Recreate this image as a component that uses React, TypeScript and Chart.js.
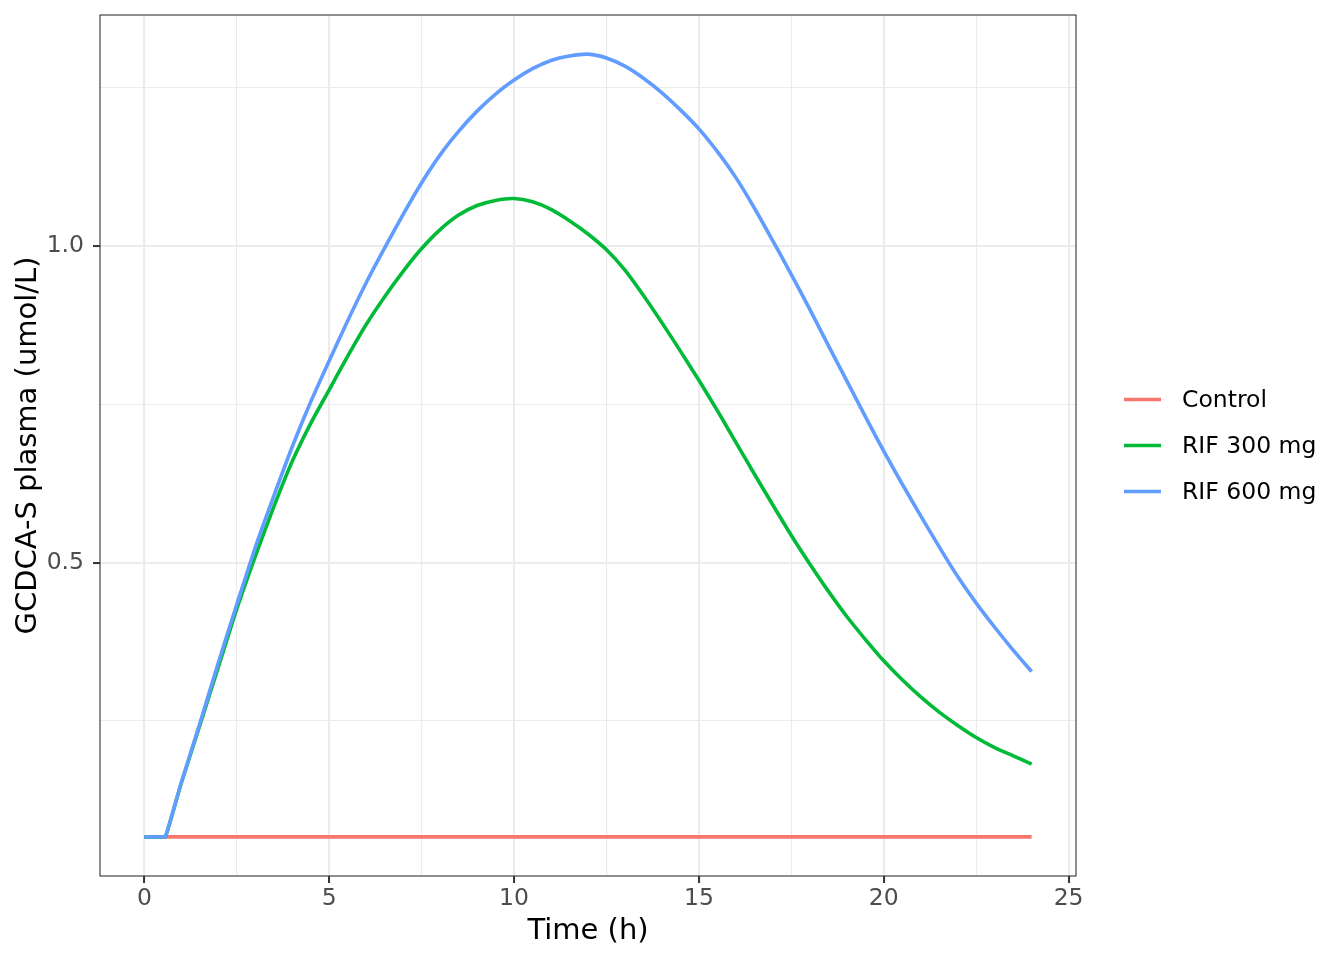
import { useEffect, useRef } from "react"
import { Chart, registerables } from "chart.js"
import type { Plugin } from "chart.js"

Chart.register(...registerables)

// Simulated plasma concentrations (umol/L)
const controlTimes = [0, 24]
const controlValues = [0.067, 0.067]

const times = [
  0, 0.5, 0.57, 1, 1.5, 2, 2.5, 3, 3.5, 4, 4.5, 5, 5.5, 6, 6.5, 7, 7.5, 8, 8.5, 9, 9.5, 10, 10.5, 11, 11.5, 12,
  12.5, 13, 13.5, 14, 14.5, 15, 15.5, 16, 16.5, 17, 17.5, 18, 18.5, 19, 19.5, 20, 20.5, 21, 21.5, 22, 22.5,
  23, 23.5, 24,
]

const rif300 = [
  0.067, 0.067, 0.067, 0.152, 0.243, 0.335, 0.427, 0.51, 0.588, 0.66, 0.72, 0.773, 0.826, 0.876, 0.92, 0.96,
  0.996, 1.026, 1.049, 1.064, 1.072, 1.075, 1.07, 1.058, 1.04, 1.019, 0.994, 0.962, 0.922, 0.879, 0.834, 0.788,
  0.74, 0.69, 0.64, 0.591, 0.543, 0.498, 0.455, 0.415, 0.379, 0.345, 0.315, 0.288, 0.264, 0.243, 0.224, 0.208,
  0.195, 0.182,
]

const rif600 = [
  0.067, 0.067, 0.067, 0.153, 0.246, 0.342, 0.434, 0.524, 0.605, 0.683, 0.754, 0.819, 0.882, 0.942, 0.997,
  1.05, 1.1, 1.144, 1.181, 1.213, 1.24, 1.262, 1.28, 1.293, 1.3, 1.303, 1.297, 1.284, 1.265, 1.242, 1.215,
  1.185, 1.149, 1.108, 1.06, 1.008, 0.955, 0.9, 0.843, 0.787, 0.731, 0.676, 0.624, 0.574, 0.525, 0.478, 0.436,
  0.398, 0.362, 0.328,
]

const seriesNames = ["Control", "RIF 300 mg", "RIF 600 mg"]
const seriesColors = ["#F8766D", "#00BA38", "#619CFF"]

const FONT = "DejaVu Sans"

const isMajorX = (v: number) => Math.abs(v / 5 - Math.round(v / 5)) < 1e-6
const isMajorY = (v: number) => Math.abs(v * 2 - Math.round(v * 2)) < 1e-6

// ggplot-like panel border + legend on the right
const panelPlugin: Plugin = {
  id: "panel",
  afterDraw(chart) {
    const { ctx, chartArea } = chart
    ctx.save()
    ctx.strokeStyle = "#333333"
    ctx.lineWidth = 1.1
    ctx.strokeRect(chartArea.left, chartArea.top, chartArea.right - chartArea.left, chartArea.bottom - chartArea.top)

    const datasets = chart.data.datasets
    const mid = (chartArea.top + chartArea.bottom) / 2
    ctx.font = `23.5px "${FONT}"`
    ctx.textBaseline = "middle"
    ctx.textAlign = "left"
    datasets.forEach((ds, i) => {
      const y = mid + (i - (datasets.length - 1) / 2) * 46
      ctx.strokeStyle = ds.borderColor as string
      ctx.lineWidth = 3.6
      ctx.beginPath()
      ctx.moveTo(chartArea.right + 48, y)
      ctx.lineTo(chartArea.right + 85, y)
      ctx.stroke()
      ctx.fillStyle = "#000000"
      ctx.fillText(ds.label as string, chartArea.right + 106, y + 1)
    })
    ctx.restore()
  },
}

export default function App() {
  const chartRef = useRef<HTMLCanvasElement>(null)
  const chartInstance = useRef<Chart | null>(null)

  useEffect(() => {
    if (!chartRef.current) return
    if (chartInstance.current) chartInstance.current.destroy()
    const ctx = chartRef.current.getContext("2d")
    if (!ctx) return

    Chart.defaults.font.family = FONT

    const toPoints = (xs: number[], ys: number[]) => xs.map((x, i) => ({ x, y: ys[i] }))

    chartInstance.current = new Chart(ctx, {
      type: "line",
      data: {
        datasets: [
          {
            label: seriesNames[0],
            data: toPoints(controlTimes, controlValues),
            borderColor: seriesColors[0],
            backgroundColor: seriesColors[0],
            order: 3,
          },
          {
            label: seriesNames[1],
            data: toPoints(times, rif300),
            borderColor: seriesColors[1],
            backgroundColor: seriesColors[1],
            order: 2,
          },
          {
            label: seriesNames[2],
            data: toPoints(times, rif600),
            borderColor: seriesColors[2],
            backgroundColor: seriesColors[2],
            order: 1,
          },
        ],
      },
      options: {
        animation: false,
        responsive: true,
        maintainAspectRatio: false,
        events: [],
        layout: {
          padding: { left: 0, top: 15, right: 268, bottom: 0 },
        },
        elements: {
          point: { radius: 0 },
          line: { borderWidth: 3.6, tension: 0.22, fill: false, borderJoinStyle: "round", borderCapStyle: "butt" },
        },
        plugins: {
          legend: { display: false },
          tooltip: { enabled: false },
        },
        scales: {
          x: {
            type: "linear",
            min: -1.2,
            max: 25.2,
            afterFit: (scale) => {
              scale.height = 84
              scale.paddingLeft = 0
              scale.paddingRight = 0
            },
            border: { display: false },
            grid: {
              color: "#EBEBEB",
              lineWidth: (c) => (isMajorX(c.tick.value) ? 2.1 : 1.1),
              tickColor: (c) => (isMajorX(c.tick.value) ? "#333333" : "rgba(0,0,0,0)"),
              tickLength: 7,
              tickWidth: 2,
            },
            ticks: {
              stepSize: 2.5,
              includeBounds: false,
              autoSkip: false,
              maxRotation: 0,
              padding: 2,
              color: "#4D4D4D",
              font: { size: 23.5 },
              callback: (v) => (isMajorX(Number(v)) ? String(v) : ""),
            },
            title: {
              display: true,
              text: "Time (h)",
              color: "#000000",
              font: { size: 29 },
              padding: { top: 0, bottom: 11 },
            },
          },
          y: {
            type: "linear",
            min: 0.0052,
            max: 1.3648,
            afterFit: (scale) => {
              scale.width = 100
              scale.paddingTop = 0
              scale.paddingBottom = 0
            },
            border: { display: false },
            grid: {
              color: "#EBEBEB",
              lineWidth: (c) => (isMajorY(c.tick.value) ? 2.1 : 1.1),
              tickColor: (c) => (isMajorY(c.tick.value) ? "#333333" : "rgba(0,0,0,0)"),
              tickLength: 7,
              tickWidth: 2,
            },
            ticks: {
              stepSize: 0.25,
              includeBounds: false,
              autoSkip: false,
              padding: 9,
              color: "#4D4D4D",
              font: { size: 23.5 },
              callback: (v) => (isMajorY(Number(v)) ? Number(v).toFixed(1) : ""),
            },
            title: {
              display: true,
              text: "GCDCA-S plasma (umol/L)",
              color: "#000000",
              font: { size: 29 },
              padding: { top: 11, bottom: 0 },
            },
          },
        },
      },
      plugins: [panelPlugin],
    })

    return () => {
      if (chartInstance.current) {
        chartInstance.current.destroy()
        chartInstance.current = null
      }
    }
  }, [])

  return (
    <div style={{ position: "absolute", left: 0, top: 0, width: 1344, height: 960, background: "#ffffff" }}>
      <canvas ref={chartRef} aria-label="GCDCA-S plasma concentration chart"></canvas>
    </div>
  )
}
